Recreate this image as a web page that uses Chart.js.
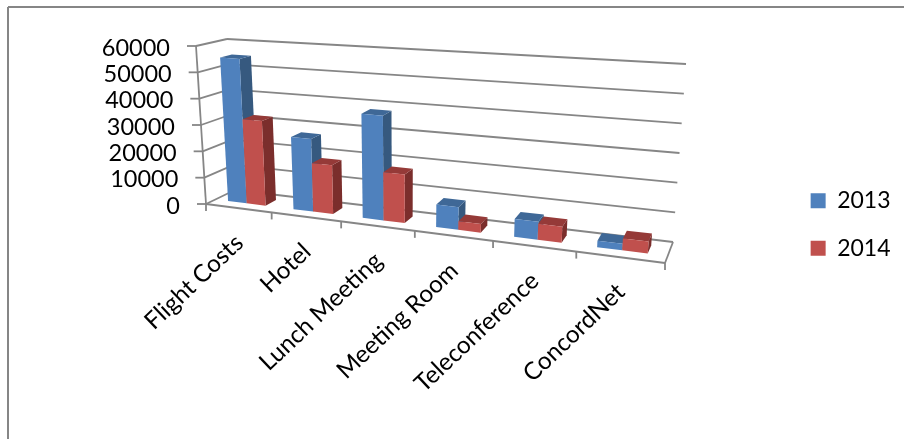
<!DOCTYPE html>
<html>
<head>
<meta charset="utf-8">
<title>Costs 2013 / 2014</title>
<script src="https://cdn.jsdelivr.net/npm/chart.js@4"></script>
<style>
  html, body { margin: 0; padding: 0; background: #fff; }
  canvas { display: block; }
</style>
</head>
<body>
<canvas id="costChart" width="904" height="439"></canvas>
<script>
/* ========= data ========= */
const categories = ["Flight Costs", "Hotel", "Lunch Meeting", "Meeting Room", "Teleconference", "ConcordNet"];
const values2013 = [55000, 27000, 38000, 8000, 6200, 2200];
const values2014 = [32000, 18000, 17500, 3000, 5500, 4000];
const seriesNames = ["2013", "2014"];

/* ========= look ========= */
const FONT = "Lato";
const LINE = "#868686";
const frontColors = ["#4f81bd", "#c0504d"];
const sideColors = ["#36597f", "#7b2e2c"];
const topColors = ["#3f6897", "#953a38"];

// corners of the 3D box on screen: [left, right] at the front and at the back wall
const frontFloor = [[206, 204], [665, 263]];
const frontTop = [[196, 46], [678, 79]];
const backFloor = [[235, 190], [673, 242]];
const backTop = [[227, 39], [686, 64]];
const SQUEEZE = 1.198;              // perspective along the category axis
const BAR_DEPTH = [0.33, 0.72];     // where bars sit between front (0) and back wall (1)
const BAR_SHIFT = -0.002;           // bars sit a touch left of the category centre

const mix = (a, b, t) => [a[0] + (b[0] - a[0]) * t, a[1] + (b[1] - a[1]) * t];

// u = along categories, v = along values, d = depth, all 0..1
function project(u, v, d) {
  const f = u / (u + (1 - u) * SQUEEZE);
  const front = mix(mix(frontFloor[0], frontFloor[1], f), mix(frontTop[0], frontTop[1], f), v);
  const back = mix(mix(backFloor[0], backFloor[1], f), mix(backTop[0], backTop[1], f), v);
  return mix(front, back, d);
}

function poly(ctx, pts, color) {
  ctx.beginPath();
  pts.forEach((p, i) => i ? ctx.lineTo(p[0], p[1]) : ctx.moveTo(p[0], p[1]));
  ctx.closePath();
  ctx.fillStyle = color;
  ctx.fill();
}

function line(ctx, a, b) {
  ctx.beginPath();
  ctx.moveTo(a[0], a[1]);
  ctx.lineTo(b[0], b[1]);
  ctx.stroke();
}

function drawWalls(chart) {
  const ctx = chart.ctx, y = chart.scales.y, x = chart.scales.x;
  const toV = (val) => (y.bottom - y.getPixelForValue(val)) / (y.bottom - y.top);
  ctx.save();

  // frame of the pasted picture
  ctx.strokeStyle = LINE;
  ctx.lineWidth = 2;
  line(ctx, [8, 439], [8, 7]);
  line(ctx, [8, 7], [904, 7]);

  // walls and value labels
  ctx.lineWidth = 1.8;
  ctx.fillStyle = "#000";
  ctx.textAlign = "right";
  ctx.textBaseline = "middle";
  ctx.font = `23.5px ${FONT}`;
  y.ticks.forEach(t => {
    const v = toV(t.value);
    const p = project(0, v, 0);
    line(ctx, p, project(0, v, 1));
    line(ctx, project(0, v, 1), project(1, v, 1));
    line(ctx, [p[0] - 9, p[1]], p);
    ctx.fillText(t.label, p[0] - 26, p[1] + 2);
  });
  line(ctx, project(0, 0, 0), project(0, 1, 0));
  line(ctx, project(0, 0, 0), project(1, 0, 0));
  line(ctx, project(1, 0, 0), project(1, 0, 1));

  // category ticks and rotated labels
  for (let i = 0; i <= categories.length; i++) {
    const p = project(i / categories.length, 0, 0);
    line(ctx, p, [p[0], p[1] + 7]);
  }
  ctx.font = `24.2px ${FONT}`;
  x.ticks.forEach((t, i) => {
    const p = project((i + 0.5) / categories.length, 0, 0);
    ctx.save();
    ctx.translate(p[0] + 1, p[1] + 31);
    ctx.rotate(-43.5 * Math.PI / 180);
    ctx.fillText(categories[i], 0, 0);
    ctx.restore();
  });
  ctx.restore();
}

function drawBars(chart) {
  const ctx = chart.ctx, area = chart.chartArea;
  const [d0, d1] = BAR_DEPTH;
  chart.data.datasets.forEach((ds, i) => {
    chart.getDatasetMeta(i).data.forEach(bar => {
      const b = bar.getProps(["x", "y", "width"], true);
      const u0 = (b.x - b.width / 2 - area.left) / area.width + BAR_SHIFT;
      const u1 = (b.x + b.width / 2 - area.left) / area.width + BAR_SHIFT;
      const v = (area.bottom - b.y) / area.height;
      poly(ctx, [project(u1, 0, d0), project(u1, v, d0), project(u1, v, d1), project(u1, 0, d1)], sideColors[i]);
      poly(ctx, [project(u0, v, d0), project(u1, v, d0), project(u1, v, d1), project(u0, v, d1)], topColors[i]);
      poly(ctx, [project(u0, 0, d0), project(u1, 0, d0), project(u1, v, d0), project(u0, v, d0)], frontColors[i]);
    });
  });
}

const box3d = {
  id: "box3d",
  beforeDatasetsDraw(chart) {
    drawWalls(chart);
    drawBars(chart);
  },
  beforeDatasetDraw() {
    return false; // flat bars replaced by the perspective ones above
  }
};

new Chart(document.getElementById("costChart"), {
  type: "bar",
  data: {
    labels: categories,
    datasets: [
      { label: seriesNames[0], data: values2013, backgroundColor: frontColors[0], borderWidth: 0 },
      { label: seriesNames[1], data: values2014, backgroundColor: frontColors[1], borderWidth: 0 }
    ]
  },
  options: {
    responsive: false,
    animation: false,
    categoryPercentage: 0.58,
    barPercentage: 1,
    layout: { padding: { top: 10, right: 3.5 } },
    scales: {
      x: { grid: { display: false }, border: { display: false }, ticks: { display: false } },
      y: {
        min: 0, max: 60000,
        grid: { display: false }, border: { display: false },
        ticks: { display: false, stepSize: 10000, callback: v => String(v) }
      }
    },
    plugins: {
      tooltip: { enabled: false },
      legend: {
        position: "right",
        labels: {
          boxWidth: 15,
          boxHeight: 15,
          padding: 24.4,
          color: "#000",
          font: { family: FONT, size: 23 }
        }
      }
    }
  },
  plugins: [box3d]
});
</script>
</body>
</html>
